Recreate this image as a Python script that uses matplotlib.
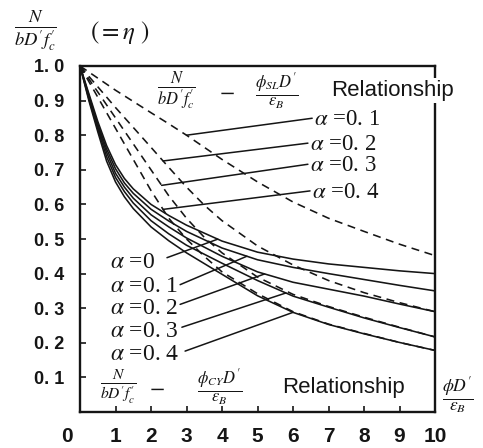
import numpy as np
import matplotlib
matplotlib.use("Agg")
import matplotlib.pyplot as plt

plt.rcParams['mathtext.fontset'] = 'stix'

# ---------------- data ----------------
# eta - phi_CY D'/eps_B relationship (solid)
x_cy = [0, 0.25, 0.5, 0.75, 1.0, 1.25, 1.5, 2.0, 2.5, 3.0, 4.0, 5.0, 6.0, 7.0, 8.0, 9.0, 10.0]
eta_cy_a00 = [1.0, 0.92, 0.84, 0.77, 0.715, 0.675, 0.645, 0.600, 0.568, 0.540, 0.494, 0.462, 0.442, 0.428, 0.418, 0.408, 0.400]
eta_cy_a01 = [1.0, 0.915, 0.832, 0.760, 0.703, 0.662, 0.632, 0.586, 0.552, 0.522, 0.474, 0.440, 0.418, 0.400, 0.383, 0.366, 0.350]
eta_cy_a02 = [1.0, 0.910, 0.825, 0.750, 0.690, 0.650, 0.618, 0.570, 0.535, 0.503, 0.450, 0.405, 0.375, 0.355, 0.335, 0.312, 0.290]
eta_cy_a03 = [1.0, 0.905, 0.818, 0.738, 0.678, 0.637, 0.604, 0.553, 0.515, 0.482, 0.430, 0.380, 0.335, 0.303, 0.272, 0.244, 0.217]
eta_cy_a04 = [1.0, 0.900, 0.810, 0.725, 0.665, 0.622, 0.588, 0.535, 0.495, 0.460, 0.398, 0.336, 0.288, 0.253, 0.226, 0.201, 0.178]

# eta - phi_SL D'/eps_B relationship (dashed)
x_sl = [0, 1.0, 2.0, 2.5, 3.0, 3.5, 4.0, 5.0, 6.0, 7.0, 8.0, 9.0, 10.0]
eta_sl_a01 = [1.0, 0.930, 0.865, 0.833, 0.800, 0.765, 0.730, 0.665, 0.607, 0.560, 0.522, 0.485, 0.452]
eta_sl_a02 = [1.0, 0.880, 0.765, 0.707, 0.650, 0.598, 0.553, 0.480, 0.425, 0.380, 0.345, 0.316, 0.290]
eta_sl_a03 = [1.0, 0.850, 0.700, 0.625, 0.560, 0.505, 0.460, 0.390, 0.340, 0.305, 0.274, 0.245, 0.217]
eta_sl_a04 = [1.0, 0.820, 0.640, 0.560, 0.500, 0.450, 0.405, 0.342, 0.290, 0.254, 0.227, 0.201, 0.178]

cy_labels = [r'$\alpha$ =0', r'$\alpha$ =0. 1', r'$\alpha$ =0. 2', r'$\alpha$ =0. 3', r'$\alpha$ =0. 4']
sl_labels = [r'$\alpha$ =0. 1', r'$\alpha$ =0. 2', r'$\alpha$ =0. 3', r'$\alpha$ =0. 4']

xticks = [1, 2, 3, 4, 5, 6, 7, 8, 9, 10]
xtick_labels = ['1', '2', '3', '4', '5', '6', '7', '8', '9', '10']
yticks = [0.1, 0.2, 0.3, 0.4, 0.5, 0.6, 0.7, 0.8, 0.9, 1.0]
ytick_labels = ['0. 1', '0. 2', '0. 3', '0. 4', '0. 5', '0. 6', '0. 7', '0. 8', '0. 9', '1. 0']

# ---------------- figure ----------------
fig = plt.figure(figsize=(4.83, 4.48), dpi=100)
ax = fig.add_axes([80/483, 36/448, 355/483, 346/448])
ax.set_xlim(0, 10)
ax.set_ylim(0, 1.0)

ink = '#151515'
lw = 1.15
cy_series = [eta_cy_a00, eta_cy_a01, eta_cy_a02, eta_cy_a03, eta_cy_a04]
sl_series = [eta_sl_a01, eta_sl_a02, eta_sl_a03, eta_sl_a04]
for ys in cy_series:
    ax.plot(x_cy, ys, color=ink, lw=lw, solid_joinstyle='round')
for ys in sl_series:
    ax.plot(x_sl, ys, color=ink, lw=lw, dashes=(5, 3.5))

for s in ax.spines.values():
    s.set_linewidth(1.7)
    s.set_color(ink)

tick_font = dict(family=['Liberation Sans Narrow', 'Liberation Sans', 'DejaVu Sans'], weight='bold')
ax.set_xticks(xticks)
ax.set_xticklabels(xtick_labels, fontsize=15, **tick_font)
ax.set_yticks(yticks)
ax.set_yticklabels(ytick_labels, fontsize=13, **tick_font)
ax.tick_params(direction='in', length=4, width=1.2, pad=11, colors=ink)
ax.annotate('0', xy=(0, 0), xycoords='data', xytext=(-9.5, -17.5), textcoords='offset points',
            ha='center', va='center', fontsize=15, color=ink, **tick_font)

# leader lines and labels: dashed (SL) curves, labels upper right
sl_pick_x = [3.0, 2.34, 2.3, 2.34]
sl_label_pos = [(6.54, 0.849), (6.42, 0.777), (6.42, 0.716), (6.48, 0.639)]
for ys, px, (tx, ty), lab in zip(sl_series, sl_pick_x, sl_label_pos, sl_labels):
    py = float(np.interp(px, x_sl, ys))
    ax.annotate('', xy=(px, py), xytext=(tx, ty),
                arrowprops=dict(arrowstyle='-', color=ink, lw=1.1, shrinkA=0, shrinkB=0))
    ax.text(tx + 0.06, ty - 0.005, lab, fontsize=16.5, family='Liberation Serif',
            ha='left', va='center', color=ink, zorder=7)

# leader lines and labels: solid (CY) curves, labels lower left
cy_pick_x = [3.88, 4.7, 5.2, 5.8, 6.0]
cy_leader_start = [(2.45, 0.446), (2.82, 0.368), (2.82, 0.311), (2.87, 0.245), (2.96, 0.176)]
cy_text_y = [0.432, 0.362, 0.300, 0.232, 0.165]
for ys, px, (sx, sy), lab, tyy in zip(cy_series, cy_pick_x, cy_leader_start, cy_labels, cy_text_y):
    py = float(np.interp(px, x_cy, ys))
    ax.annotate('', xy=(px, py), xytext=(sx, sy),
                arrowprops=dict(arrowstyle='-', color=ink, lw=1.1, shrinkA=0, shrinkB=0))
    ax.text(0.85, tyy, lab, fontsize=17, family='Liberation Serif',
            ha='left', va='center', color=ink, zorder=7)

# relationship captions
frac_eta = r'$\frac{N}{bD^{\prime}f^{\prime}_{c}}$'
ax.text(2.17, 0.928, frac_eta, fontsize=17, ha='left', va='center', color=ink, zorder=6)
ax.text(4.14, 0.925, r'$-$', fontsize=16, ha='center', va='center', color=ink, zorder=6)
ax.text(4.93, 0.928, r'$\frac{\phi_{SL}D^{\prime}}{\varepsilon_{B}}$', fontsize=17,
        ha='left', va='center', color=ink, zorder=6)
ax.text(7.08, 0.93, 'Relationship', fontsize=16, family='Liberation Sans',
        ha='left', va='center', color=ink, zorder=6, clip_on=False,
        bbox=dict(facecolor='white', edgecolor='none', pad=1.5))

ax.text(0.56, 0.072, frac_eta, fontsize=16, ha='left', va='center', color=ink, zorder=6)
ax.text(2.17, 0.07, r'$-$', fontsize=16, ha='center', va='center', color=ink, zorder=6)
ax.text(3.3, 0.072, r'$\frac{\phi_{CY}D^{\prime}}{\varepsilon_{B}}$', fontsize=17,
        ha='left', va='center', color=ink, zorder=6)
ax.text(5.7, 0.072, 'Relationship', fontsize=16, family='Liberation Sans',
        ha='left', va='center', color=ink, zorder=6)

# axis titles
fig.text(14/483, 1 - 31/448, frac_eta, fontsize=19, ha='left', va='center', color=ink)
fig.text(90/483, 1 - 33/448, r'$( = \eta\ )$', fontsize=18, ha='left', va='center', color=ink)
fig.text(458/483, 1 - 395/448, r'$\frac{\phi D^{\prime}}{\varepsilon_{B}}$',
         fontsize=18, ha='center', va='center', color=ink)

fig.savefig('out.png', dpi=100)
